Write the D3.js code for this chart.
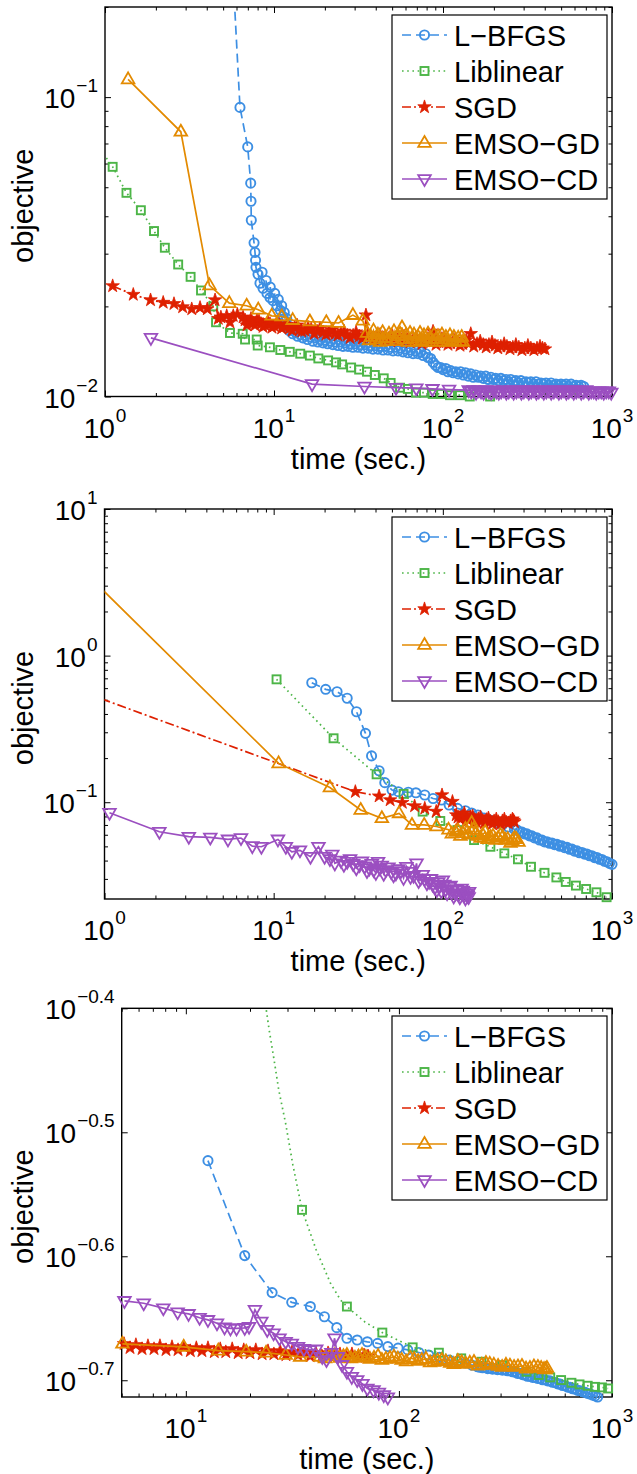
<!DOCTYPE html>
<html><head><meta charset="utf-8">
<script src="https://cdn.jsdelivr.net/npm/d3@7"></script>
<style>
body{margin:0;background:#fff}
svg{display:block}
text{font-family:"Liberation Sans",Arial,Helvetica,sans-serif;fill:#000}
</style>
</head><body>
<svg id="chart" width="637" height="1474"></svg>
<script>
// ---------------- DATA (time in sec., objective) ----------------
const seriesNames = ["L\u2212BFGS", "Liblinear", "SGD", "EMSO\u2212GD", "EMSO\u2212CD"];

// Panel 1
const p1LBFGS = [[5.42,.456],[6.29,.0924],[6.99,.0682],[7.28,.0516],[7.31,.0449],[7.34,.0388],[7.62,.0326],[7.72,.0303],[7.78,.0285],[7.82,.0270],[8.04,.0256],[8.26,.0239],[8.5,.0260],[8.61,.0230],[8.98,.0244],[9.09,.0221],[9.47,.0214],[9.5,.0232],[9.87,.0209],[10.1,.0221],[10.4,.0201],[10.6,.0211],[10.9,.0194],[11.1,.0201],[11.3,.0185],[11.5,.0191],[11.6,.0179],[11.9,.0182],[11.95,.0171],[12.3,.0166],
 [12.9,.0162],[13.35,.0164],[13.8,.0159],[14.3,.0161],[14.8,.0157],[15.3,.0160],[15.8,.0155],[16.4,.0158],[17.0,.0153],[17.6,.0157],[18.2,.0152],[18.8,.0155],[19.5,.0151],[20.1,.0154],[20.8,.0150],[21.6,.0153],[22.3,.0149],[23.1,.0152],[23.9,.0148],[24.7,.0152],[25.6,.0147],[26.5,.0151],[27.4,.0147],[28.3,.0150],[29.3,.0146],[30.3,.0150],[31.4,.0146],[32.5,.0149],[33.6,.0145],[34.8,.0149],[36.0,.0145],[37.2,.0148],[38.5,.0144],[39.9,.0148],[41.2,.0144],[42.7,.0147],[44.2,.0143],[45.7,.0147],[47.3,.0143],[48.9,.0146],[50.6,.0142],[52.4,.0146],[54.2,.0142],[56.1,.0145],[58.0,.0141],[60.1,.0144],[62.1,.0140],[64.3,.0143],[66.5,.0139],[68.8,.0142],[71.2,.0139],[73.7,.0141],[76.3,.0137],[78.9,.0139],[81.6,.0135],[84.5,.0134],[87.4,.0130],[90.5,.0127],[93.6,.0125],[96.9,.0125],[100,.0123],[104,.0124],[107,.0121],[111,.0122],[115,.0120],[119,.0121],[123,.0119],[127,.0121],[132,.0118],[136,.0120],[141,.0117],[146,.0119],[151,.0116],[156,.0118],[162,.0116],[167,.0117],[173,.0115],[179,.0117],[185,.0114],[192,.0116],[199,.0114],[205,.0115],[213,.0113],[220,.0115],[228,.0113],[236,.0114],[244,.0112],[252,.0114],[261,.0112],[270,.0113],[279,.0111],[289,.0113],[299,.0111],[310,.0112],[320,.0111],[331,.0112],[343,.0110],[355,.0112],[367,.0110],[380,.0111],[393,.0110],[407,.0111],[421,.0109],[436,.0111],[451,.0109],[466,.0110],[483,.0109],[499,.0110],[517,.0109],[535,.0110],[553,.0108],[573,.0110],[592,.0108],[613,.0109],[634,.0108],[656,.0109],[680,.0108]];
const p1Liblinear = [[0.9,.069],[1.11,.0585],[1.34,.0479],[1.63,.0419],[1.95,.0357],[2.26,.0314],[2.71,.0276],[3.21,.0251],[3.70,.0226],[4.37,.0200],[4.54,.0177],[5.49,.0163],[6.53,.0162],[6.74,.0155],[7.90,.0155],[8.01,.0148],[9.46,.0146],[10.9,.0143],[12.4,.0141],[14.3,.0139],[16.3,.0137],[18.3,.0134],[20.9,.0132],[23.3,.0130],[25.3,.0128],[28.6,.0125],[31.9,.0123],[35.5,.0121],[39.5,.0118],[44.6,.0115],[49.0,.0111],[55.7,.0107],[61.9,.0106],[69.2,.0103],[77.1,.0103],[86.9,.0102],[97.6,.0102],[110,.0101],[126,.0101],[144,.0100],[190,.0100]];
const p1SGD = [[1.11,.0234],[1.47,.0219],[1.86,.0210],[2.21,.0206],[2.56,.0204],[2.88,.0199],[3.26,.0196],[3.65,.0198],[4.03,.0196],[4.48,.0210],[4.68,.0182],[4.85,.0184],[5.25,.0186],[5.49,.0177],[5.74,.0186],[6.07,.0188],[6.56,.0184],[6.74,.0180],[6.92,.0173],[7.11,.0177],[7.31,.0182],[7.51,.0176],[7.72,.0173],[7.93,.0180],[8.15,.0179],[8.38,.0175],[8.61,.0171],[8.90,.0173],[9.21,.0178],[9.47,.0175],[9.73,.0170],[10.05,.0172],[10.4,.0177],[10.75,.0174],[11.1,.0169],[11.5,.0171],[11.9,.0174],[12.35,.0169],[12.8,.0166],[13.25,.0170],[13.7,.0173],[14.15,.0167],[14.6,.0165],[15.25,.0166],[15.9,.0170],[16.6,.0168],[17.3,.0162],[18.0,.0165],[18.7,.0169],[19.5,.0164],[20.3,.0161],[21.1,.0163],[22.0,.0167],[22.9,.0162],[23.9,.0160],[24.9,.0163],[26.0,.0165],[27.1,.0160],[28.2,.0157],[29.4,.0160],[30.6,.0164],[31.9,.0159],[33.2,.0156],[34.5,.0160],[35.0,.0187],[36.0,.0162],[37.5,.0158],[39.1,.0155],[40.7,.0157],[42.4,.0161],[44.2,.0157],[46.0,.0154],[48.0,.0157],[49.9,.0160],[52.0,.0156],[54.2,.0153],[56.5,.0155],[58.8,.0159],[61.3,.0155],[63.8,.0152],[66.5,.0154],[69.2,.0157],[72.1,.0153],[75.1,.0150],[78.3,.0153],[81.5,.0156],[84.5,.0152],[87.3,.0165],[90.9,.0149],[94.7,.0152],[98.6,.0156],[102,.0152],[107,.0149],[111,.0151],[116,.0155],[121,.0151],[126,.0148],[131,.0150],[137,.0154],[142,.0150],[146,.0162],[152,.0147],[159,.0150],[166,.0153],[173,.0149],[180,.0146],[187,.0149],[195,.0152],[203,.0148],[211,.0145],[220,.0147],[230,.0150],[239,.0147],[249,.0144],[259,.0146],[270,.0149],[281,.0146],[293,.0143],[305,.0145],[318,.0148],[331,.0145],[345,.0143],[360,.0145],[375,.0147],[388,.0145],[401,.0144]];
const p1EMSOGD = [[1.37,.1146],[2.81,.0766],[4.15,.0235],[5.44,.0205],[6.89,.0201],[8.07,.0195],[9.69,.0186],[11.1,.0185],[12.9,.0180],[16.3,.0178],[20.4,.0177],[24.1,.0176],[29.3,.0187],[33.5,.0179],[35.5,.0163],[36.5,.0154],[37.5,.0158],[38.8,.0166],[40.1,.0155],[41.2,.0161],[42.4,.0152],[43.9,.0164],[45.4,.0157],[46.6,.0153],[47.9,.0162],[49.6,.0156],[51.3,.0165],[52.7,.0153],[54.2,.0159],[55.7,.0162],[57.2,.0170],[58.8,.0155],[60.4,.0160],[62.1,.0152],[63.8,.0163],[65.6,.0156],[67.4,.0161],[69.3,.0152],[71.2,.0158],[73.1,.0163],[75.1,.0154],[77.2,.0160],[79.3,.0152],[81.5,.0162],[83.8,.0156],[86.1,.0152],[88.5,.0161],[91.0,.0155],[93.4,.0159],[96.0,.0152],[98.6,.0161],[101,.0155],[104,.0158],[107,.0152],[110,.0160],[113,.0154],[116,.0158],[119,.0152],[123,.0157],[126,.0153],[129,.0158],[131,.0152]];
const p1EMSOCD = [[1.87,.0157],[16.8,.0110],[34.3,.0108],[52.7,.0107],[69.5,.01066],[86.7,.0106],[108.6,.01055],[142,.0105],[147,.0104],[152,.0105],[157,.0103],[163,.0105],[168,.0104],[174,.0103],[180,.0105],[187,.0104],[193,.0103],[200,.0105],[207,.0104],[214,.0103],[221,.0104],[229,.0105],[237,.0103],[245,.0104],[254,.0105],[262,.0103],[272,.0104],[281,.0105],[291,.0103],[301,.0104],[311,.0105],[322,.0103],[333,.0104],[345,.0105],[357,.0103],[369,.0104],[382,.0105],[395,.0103],[409,.0104],[423,.0105],[437,.0103],[453,.0104],[468,.0105],[485,.0103],[501,.0104],[519,.0105],[537,.0103],[555,.0104],[574,.0105],[594,.0103],[615,.0104],[636,.0105],[658,.0103],[681,.0104],[704,.0105],[729,.0103],[754,.0104],[780,.0104],[807,.0103],[835,.0104],[864,.0104],[894,.0103],[925,.0104],[957,.0104],[990,.0103]];

// Panel 2
const p2LBFGS = [[16.8,.653],[20.3,.589],[23.7,.567],[27.2,.512],[30.9,.414],[34.9,.295],[37.9,.207],[42.0,.164],[45.4,.136],[50.1,.121],[54.6,.118],[62.5,.117],[69.3,.116],[78.2,.112],[87.6,.106],[98.2,.1035],[109,.0957],[122,.0908],[136,.0875],[148,.0844],[161,.0818],[175,.0780],[190,.0756],[207,.0727],[225,.0700],[244,.0677],[265,.0654],[274,.0648],[284,.0628],[294,.0625],[304,.0608],[314,.0609],[325,.0590],[336,.0590],[348,.0571],[360,.0572],[373,.0553],[386,.0552],[399,.0536],[413,.0538],[427,.0525],[442,.0527],[457,.0514],[473,.0516],[489,.0502],[506,.0504],[524,.0490],[542,.0492],[561,.0478],[580,.0479],[600,.0464],[621,.0466],[642,.0452],[665,.0454],[688,.0443],[711,.0444],[736,.0431],[761,.0432],[788,.0419],[815,.0420],[843,.0408],[872,.0407],[903,.0396],[934,.0393],[966,.0383],[1000,.0377]];
const p2Liblinear = [[10.4,.689],[22.6,.273],[40.6,.155],[58.6,.114],[76.0,.0863],[96.6,.0745],[122,.0646],[153,.0552],[191,.0497],[231,.0448],[278,.0408],[332,.0363],[399,.0330],[469,.0307],[533,.0286],[612,.0270],[703,.0256],[809,.0243],[929,.0225]];
const p2SGD = [[0.5,.668],[30.4,.118],[42.0,.110],[48.8,.1035],[57.6,.0994],[68.1,.0942],[78.2,.0908],[91.4,.0865],[98.9,.112],[114,.101],[120,.0818],[123,.0790],[127,.0767],[130,.0800],[134,.0843],[138,.0770],[142,.0755],[146,.0790],[150,.0805],[154,.0760],[158,.0733],[162,.0770],[167,.0793],[171,.0750],[176,.0722],[181,.0760],[186,.0780],[191,.0740],[196,.0710],[201,.0745],[207,.0767],[213,.0735],[219,.0710],[225,.0745],[231,.0767],[237,.0730],[244,.0722],[251,.0745],[258,.0767],[262,.0750],[265,.0733]];
const p2EMSOGD = [[0.5,6.0],[10.7,.184],[21.5,.126],[32.7,.0886],[43.6,.0777],[55.1,.0840],[65.7,.0700],[77.6,.0700],[91.8,.0683],[108,.0649],[113,.0610],[119,.0626],[123,.0640],[127,.0588],[131,.0615],[136,.0657],[142,.0600],[148,.0722],[152,.0650],[156,.0607],[161,.0590],[167,.0570],[172,.0600],[178,.0626],[184,.0560],[191,.0579],[198,.0590],[205,.0552],[212,.0570],[219,.0597],[226,.0580],[234,.0552],[242,.0560],[251,.0527],[258,.0545],[265,.0570],[272,.0560],[280,.0535]];
const p2EMSOCD = [[1.07,.0848],[2.11,.0629],[3.15,.0582],[4.22,.0575],[5.37,.0558],[6.41,.057],[7.48,.0502],[8.46,.0497],[10.6,.0558],[11.8,.0497],[12.8,.0459],[14.3,.047],[16.5,.0425],[18.4,.0497],[20.0,.0425],[21.5,.0410],[22.2,.0440],[23.0,.0383],[25.0,.0400],[26.0,.0375],[27.2,.0393],[28.3,.0410],[29.5,.0380],[30.8,.0355],[32.2,.0373],[33.3,.0395],[34.5,.0365],[35.6,.0340],[36.8,.0354],[38.0,.0380],[39.0,.0345],[40.2,.0330],[41.4,.0393],[42.4,.0355],[43.5,.0370],[44.7,.0325],[46.0,.0345],[47.7,.0360],[49.5,.0335],[51.1,.0318],[52.8,.0327],[54.6,.0350],[56.5,.0340],[58.6,.0305],[60.9,.0363],[62.6,.0335],[64.4,.0310],[67.1,.0315],[69.9,.0383],[71.9,.0290],[73.9,.0303],[76.0,.0320],[78.0,.0300],[80.5,.0280],[83.0,.0287],[85.0,.0300],[87.0,.0275],[89.6,.0262],[92.2,.0252],[94.1,.0285],[96.0,.0270],[98.0,.0248],[100,.0294],[102,.0275],[104,.0255],[106,.0240],[109,.0265],[111,.0270],[114,.0250],[116,.0228],[119,.0239],[121,.0255],[124,.0235],[126,.0225],[129,.0258],[131,.0250],[132,.0240],[134,.0232],[136,.0221],[138,.0238],[140,.0230],[142,.0226],[143,.0245]];

// Panel 3
const p3LBFGS = [[12.7,.300],[18.9,.2515],[25.4,.2348],[31.4,.2306],[38.4,.2288],[44.7,.2245],[51.1,.2200],[57.0,.2157],[63.7,.2150],[71.1,.2143],[79.4,.2137],[88.7,.2124],[99.1,.2118],[110,.2111],[124,.2101],[138,.2091],[155,.2082],[172,.2072],[188,.2066],[205,.2060],[220,.2052],[234,.2046],[240,.2044],[247,.2042],[254,.2043],[261,.2039],[268,.2041],[275,.2037],[283,.2039],[290,.2035],[298,.2037],[306,.2033],[315,.2035],[323,.2031],[332,.2032],[341,.2027],[351,.2026],[360,.2021],[370,.2021],[380,.2016],[391,.2015],[401,.2010],[412,.2010],[424,.2006],[435,.2006],[447,.2002],[460,.2002],[472,.1997],[485,.1997],[499,.1993],[512,.1993],[526,.1988],[541,.1987],[556,.1982],[571,.1981],[586,.1976],[602,.1975],[619,.1970],[636,.1969],[653,.1964],[671,.1963],[690,.1958],[709,.1957],[728,.1953],[748,.1951],[768,.1947],[789,.1945],[811,.1941],[833,.1938],[856,.1934]];
const p3LiblinearCurve = [[22.8,.412],[23.8,.398],[24.6,.3825],[25.8,.364],[27.3,.342],[29.4,.3215],[31.8,.2976],[40.9,.2542],[47.8,.2388],[53.3,.2315],[69.3,.2223]];
const p3Liblinear = [[35.1,.2738],[57.0,.2288],[83.6,.2180],[116,.2121],[154,.2100],[196,.2078],[244,.2065],[305,.2052],[397,.2027],[453,.2015],[513,.2006],[577,.1996],[645,.1986],[704,.1980],[769,.1975],[832,.1971],[897,.1969],[959,.1965]];
const p3SGD = [[5.13,.2135],[5.47,.2119],[5.83,.2131],[6.23,.2115],[6.64,.2127],[7.09,.2115],[7.56,.2127],[8.07,.2111],[8.61,.2123],[9.19,.2111],[9.80,.2123],[10.5,.2107],[11.2,.2119],[11.9,.2107],[12.7,.2119],[13.6,.2103],[14.5,.2115],[15.4,.2103],[16.5,.2115],[17.6,.2099],[18.7,.2111],[20.0,.2099],[21.3,.2111],[22.8,.2095],[24.3,.2107],[25.9,.2095],[27.7,.2107],[29.5,.2091],[31.5,.2103],[33.6,.2091],[35.9,.2103],[38.3,.2087],[40.8,.2099],[43.5,.2087],[46.5,.2099],[49.6,.2084],[52.9,.2095],[56.5,.2084],[60.2,.2095],[64.3,.2084],[68.6,.2091],[71.6,.2087]];
const p3EMSOGD = [[5.04,.2135],[9.77,.2123],[14.2,.2108],[19.2,.2104],[23.8,.2100],[29.4,.2091],[34.4,.2084],[42.7,.2084],[45.0,.2078],[47.4,.2087],[50.0,.2090],[52.8,.2080],[54.9,.2086],[57.0,.2091],[59.5,.2078],[62.2,.2080],[64.6,.2085],[67.1,.2091],[70.0,.2083],[73.1,.2076],[76.4,.2080],[79.8,.2087],[83.2,.2072],[86.9,.2076],[90.8,.2080],[94.8,.2084],[98.9,.2077],[103,.2072],[108,.2066],[113,.2080],[118,.2075],[123,.2068],[128,.2072],[134,.2076],[140,.2062],[146,.2064],[152,.2070],[159,.2072],[166,.2066],[174,.2060],[181,.2056],[189,.2068],[197,.2063],[206,.2057],[215,.2061],[225,.2064],[235,.2050],[245,.2053],[256,.2060],[267,.2057],[279,.2053],[292,.2049],[305,.2045],[318,.2053],[332,.2050],[347,.2045],[362,.2047],[378,.2049],[395,.2039],[412,.2041],[430,.2047],[449,.2045],[465,.2041],[480,.2037],[488,.2036],[495,.2041]];
const p3EMSOCD = [[5.15,.2312],[6.34,.2302],[7.84,.2281],[9.15,.2264],[10.3,.2257],[11.6,.2241],[12.7,.2232],[14.0,.2218],[15.2,.2201],[16.2,.2197],[17.3,.2197],[18.9,.2199],[19.8,.2204],[21.1,.2274],[22.6,.2225],[24.1,.2191],[25.8,.2177],[27.5,.2157],[29.4,.2143],[31.4,.2136],[33.6,.2123],[35.8,.2115],[38.3,.2111],[40.9,.2113],[43.7,.2084],[45.7,.2072],[48.2,.2100],[49.9,.2157],[51.7,.2084],[54.1,.2053],[57.0,.2027],[60.1,.2008],[63.7,.1996],[67.4,.1982],[71.1,.1965],[76.0,.1959],[80.5,.1950],[84.9,.1941],[88.7,.1933]];

// Tick values / labels (exponents of 10)
const xTickExp12 = [0, 1, 2, 3];
const xTickExp3 = [1, 2, 3];
const yTickExp1 = [-2, -1];
const yTickExp2 = [1, 0, -1];
const yTickExp3 = [-0.4, -0.5, -0.6, -0.7];
const xLabel = "time (sec.)";
const yLabel = "objective";

// ---------------- STYLES ----------------
const styles = [
  {color:"#3d8fe3", dash:"9,5", marker:"circle"},
  {color:"#4cb547", dash:"1.6,3.6", marker:"square"},
  {color:"#de2000", dash:"9,3,2,3", marker:"star"},
  {color:"#e38a00", dash:null, marker:"triUp"},
  {color:"#9b4fc0", dash:null, marker:"triDown"}
];
const fmtExp = e => (e < 0 ? "\u2212" : "") + String(Math.abs(e));

const panels = [
  {x0:105, x1:612, y0:7, y1:396.5, xd:[1,1000], yd:[0.01,0.2], xt:xTickExp12, yt:yTickExp1, yMinor:true, legTop:15,
   series:[{d:p1LBFGS},{d:p1Liblinear},{d:p1SGD},{d:p1EMSOGD},{d:p1EMSOCD}]},
  {x0:104.5, x1:612, y0:509, y1:899, xd:[1,1000], yd:[Math.pow(10,-1.66),10], xt:xTickExp12, yt:yTickExp2, yMinor:true, legTop:517,
   series:[{d:p2LBFGS},{d:p2Liblinear},{d:p2SGD},{d:p2EMSOGD},{d:p2EMSOCD}]},
  {x0:121.7, x1:612, y0:1008.3, y1:1397, xd:[5,1000], yd:[Math.pow(10,-0.7135),Math.pow(10,-0.4)], xt:xTickExp3, yt:yTickExp3, yMinor:false, legTop:1016,
   series:[{d:p3LBFGS},{d:p3Liblinear, curve:p3LiblinearCurve},{d:p3SGD},{d:p3EMSOGD},{d:p3EMSOCD}]}
];

const svg = d3.select("#chart");
const starPath = d3.symbol(d3.symbolStar).size(56)();
const triUp = "M0,-7L6.3,3.9L-6.3,3.9Z";
const triDown = "M0,7L6.3,-3.9L-6.3,-3.9Z";

function drawMarker(g, type, color, px, py) {
  if (type === "circle") {
    g.append("circle").attr("cx",px).attr("cy",py).attr("r",4.6)
      .attr("fill","none").attr("stroke",color).attr("stroke-width",1.9);
  } else if (type === "square") {
    g.append("rect").attr("x",px-4).attr("y",py-4).attr("width",8).attr("height",8)
      .attr("fill","none").attr("stroke",color).attr("stroke-width",1.9);
  } else if (type === "star") {
    g.append("path").attr("d",starPath).attr("transform",`translate(${px},${py})`)
      .attr("fill",color).attr("stroke",color).attr("stroke-width",0.8);
  } else {
    g.append("path").attr("d", type==="triUp"?triUp:triDown).attr("transform",`translate(${px},${py})`)
      .attr("fill","none").attr("stroke",color).attr("stroke-width",1.8).attr("stroke-linejoin","miter");
  }
}

panels.forEach((cfg, pi) => {
  const x = d3.scaleLog().domain(cfg.xd).range([cfg.x0, cfg.x1]);
  const y = d3.scaleLog().domain(cfg.yd).range([cfg.y1, cfg.y0]);
  const g = svg.append("g");

  const xMajor = cfg.xt.map(e => Math.pow(10, e));
  const yMajor = cfg.yt.map(e => Math.pow(10, e));
  const near = (a, list) => list.some(b => Math.abs(Math.log10(a) - Math.log10(b)) < 1e-6);
  const xMinor = x.ticks().filter(v => !near(v, xMajor));
  const yMinor = cfg.yMinor ? y.ticks().filter(v => !near(v, yMajor)) : [];

  const axG = g.append("g").attr("class","axes");
  const put = (axis, tf) => {
    const a = axG.append("g").attr("transform", tf).call(axis);
    a.select(".domain").remove();
    a.selectAll("line").attr("stroke","#000").attr("stroke-width",1);
  };
  [[xMajor,6],[xMinor,3.5]].forEach(([vals,len]) => {
    put(d3.axisBottom(x).tickValues(vals).tickSize(-len).tickFormat(""), `translate(0,${cfg.y1})`);
    put(d3.axisTop(x).tickValues(vals).tickSize(-len).tickFormat(""), `translate(0,${cfg.y0})`);
  });
  [[yMajor,6],[yMinor,3.5]].forEach(([vals,len]) => {
    put(d3.axisLeft(y).tickValues(vals).tickSize(-len).tickFormat(""), `translate(${cfg.x0},0)`);
    put(d3.axisRight(y).tickValues(vals).tickSize(-len).tickFormat(""), `translate(${cfg.x1},0)`);
  });
  axG.append("rect").attr("x",cfg.x0).attr("y",cfg.y0).attr("width",cfg.x1-cfg.x0).attr("height",cfg.y1-cfg.y0)
    .attr("fill","none").attr("stroke","#000").attr("stroke-width",1.4);

  // tick labels
  cfg.xt.forEach(e => {
    const t = g.append("text").attr("x", x(Math.pow(10,e))).attr("y", cfg.y1 + 41).attr("text-anchor","middle");
    t.append("tspan").attr("font-size",28).text("10");
    t.append("tspan").attr("font-size",19).attr("dy",-16).attr("dx",1).text(fmtExp(e));
  });
  cfg.yt.forEach(e => {
    const t = g.append("text").attr("x", cfg.x0 - 7).attr("y", y(Math.pow(10,e)) + 11).attr("text-anchor","end");
    t.append("tspan").attr("font-size",28).text("10");
    t.append("tspan").attr("font-size",19).attr("dy",-16).attr("dx",1).text(fmtExp(e));
  });
  // axis labels
  g.append("text").attr("x",(cfg.x0+cfg.x1)/2).attr("y",cfg.y1+72).attr("text-anchor","middle")
    .attr("font-size",29).text(xLabel);
  g.append("text").attr("transform",`translate(33,${(cfg.y0+cfg.y1)/2+4}) rotate(-90)`).attr("text-anchor","middle")
    .attr("font-size",29).text(yLabel);

  // clip
  const cid = "clip"+pi;
  svg.append("clipPath").attr("id",cid).append("rect")
    .attr("x",cfg.x0).attr("y",cfg.y0).attr("width",cfg.x1-cfg.x0).attr("height",cfg.y1-cfg.y0);

  const line = d3.line().x(d => x(d[0])).y(d => y(d[1]));
  const inside = d => d[0] >= cfg.xd[0]*0.999 && d[0] <= cfg.xd[1]*1.001 && d[1] >= cfg.yd[0]*0.99 && d[1] <= cfg.yd[1]*1.001;

  cfg.series.forEach((s, si) => {
    const st = styles[si];
    const sg = g.append("g");
    const pts = s.curve ? s.d.concat(s.curve).sort((a,b)=>a[0]-b[0]) : s.d;
    const p = sg.append("path").attr("d", line(pts)).attr("fill","none").attr("stroke",st.color)
      .attr("stroke-width",1.7).attr("clip-path",`url(#${cid})`);
    if (st.dash) p.attr("stroke-dasharray", st.dash);
    s.d.filter(inside).forEach(d => drawMarker(sg, st.marker, st.color, x(d[0]), y(d[1])));
  });

  // legend
  const lg = g.append("g");
  lg.append("rect").attr("x",392).attr("y",cfg.legTop).attr("width",215).attr("height",184)
    .attr("fill","#fff").attr("stroke","#000").attr("stroke-width",1.2);
  seriesNames.forEach((name, i) => {
    const st = styles[i];
    const cy = cfg.legTop + 20 + 36*i;
    const l = lg.append("line").attr("x1",402).attr("x2",447).attr("y1",cy).attr("y2",cy)
      .attr("stroke",st.color).attr("stroke-width",1.7);
    if (st.dash) l.attr("stroke-dasharray", st.dash);
    drawMarker(lg, st.marker, st.color, 424.5, cy);
    lg.append("text").attr("x",454).attr("y",cy+10.5).attr("font-size",29).text(name);
  });
});
</script>
</body></html>
